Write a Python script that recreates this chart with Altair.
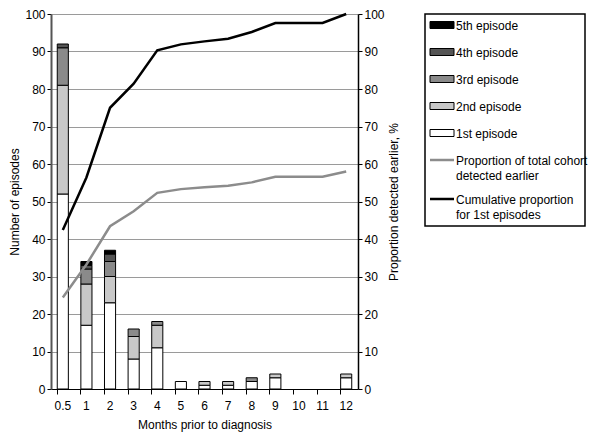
import altair as alt
import pandas as pd

months = ["0.5", "1", "2", "3", "4", "5", "6", "7", "8", "9", "10", "11", "12"]
ep1 = [52, 17, 23, 8, 11, 2, 1, 1, 2, 3, 0, 0, 3]
ep2 = [29, 11, 7, 6, 6, 0, 1, 1, 0, 1, 0, 0, 1]
ep3 = [10, 4, 4, 2, 1, 0, 0, 0, 1, 0, 0, 0, 0]
ep4 = [1, 1, 2, 0, 0, 0, 0, 0, 0, 0, 0, 0, 0]
ep5 = [0, 1, 1, 0, 0, 0, 0, 0, 0, 0, 0, 0, 0]
cum_first = [42.4, 56.4, 75.0, 81.4, 90.3, 91.9, 92.7, 93.4, 95.2, 97.6, 97.6, 97.6, 100.0]
prop_total = [24.4, 33.2, 43.4, 47.4, 52.3, 53.3, 53.8, 54.2, 55.1, 56.6, 56.6, 56.6, 58.0]

episode_names = ["1st episode", "2nd episode", "3rd episode", "4th episode", "5th episode"]
episode_fills = ["#ffffff", "#c8c8c8", "#8a8a8a", "#555555", "#000000"]
line_names = ["Proportion of total cohort\ndetected earlier", "Cumulative proportion\nfor 1st episodes"]
line_colors = ["#8c8c8c", "#000000"]

FONT = "Liberation Sans"

rows = []
for k, series in enumerate([ep1, ep2, ep3, ep4, ep5]):
    for m, v in zip(months, series):
        rows.append({"month": m, "episode": episode_names[k], "rank": k + 1, "count": v})
bars_df = pd.DataFrame(rows)

lrows = []
for name, series in zip(line_names, [prop_total, cum_first]):
    for m, v in zip(months, series):
        lrows.append({"month": m, "series": name, "pct": v})
lines_df = pd.DataFrame(lrows)

xenc = alt.X("month:N", sort=months,
             scale=alt.Scale(domain=months, paddingInner=0.53, paddingOuter=0.265),
             axis=alt.Axis(title="Months prior to diagnosis", labelAngle=0,
                           bandPosition=0, tickSize=5,
                           domainColor="#000", tickColor="#000", labelPadding=6,
                           titlePadding=8))

fill_scale = alt.Scale(domain=episode_names, range=episode_fills)

bars = alt.Chart(bars_df).transform_filter("datum.count > 0").mark_bar(
    stroke="#000", strokeWidth=1).encode(
    x=xenc,
    y=alt.Y("count:Q", stack="zero",
            scale=alt.Scale(domain=[0, 100], nice=False),
            axis=alt.Axis(title="Number of episodes", values=list(range(0, 101, 10)),
                          grid=True, gridColor="#9a9a9a", gridWidth=1,
                          domainColor="#555", domainWidth=2, tickColor="#000",
                          tickSize=4, titlePadding=3)),
    fill=alt.Fill("episode:N", scale=fill_scale, legend=None),
    order=alt.Order("rank:Q", sort="ascending"),
)

lines = alt.Chart(lines_df).mark_line(strokeWidth=2.5).encode(
    x=alt.X("month:N", sort=months),
    y=alt.Y("pct:Q", scale=alt.Scale(domain=[0, 100], nice=False),
            axis=alt.Axis(title="Proportion detected earlier, %", orient="right",
                          values=list(range(0, 101, 10)), grid=False,
                          domainColor="#000", domainWidth=1.5, tickColor="#000",
                          tickSize=4, titlePadding=16, titleAngle=270)),
    stroke=alt.Stroke("series:N", scale=alt.Scale(domain=line_names, range=line_colors),
                      legend=None),
)

main = alt.layer(bars, lines).resolve_scale(y="independent").properties(
    width=307, height=375)

# Legend panel
legend_rows = []
centers = [11, 38, 65, 92, 119, 146, 185]
legend_labels = list(reversed(episode_names)) + line_names
for i, (lab, c) in enumerate(zip(legend_labels, centers)):
    legend_rows.append({"label": lab, "c": c, "top": c - 3.5, "bot": c + 3.5,
                        "txt": c + 4.5, "kind": "bar" if i < 5 else "line"})
leg_df = pd.DataFrame(legend_rows)

ysc = alt.Scale(domain=[0, 212], reverse=True, nice=False, zero=False)

sw = alt.Chart(leg_df).transform_filter("datum.kind == 'bar'").mark_rect(
    stroke="#000", strokeWidth=1).encode(
    x=alt.value(5), x2=alt.value(29),
    y=alt.Y("top:Q", scale=ysc, axis=None), y2="bot:Q",
    fill=alt.Fill("label:N", scale=fill_scale, legend=None),
)
ln = alt.Chart(leg_df).transform_filter("datum.kind == 'line'").mark_rule(strokeWidth=2.5).encode(
    x=alt.value(5), x2=alt.value(29),
    y=alt.Y("c:Q", scale=ysc, axis=None),
    stroke=alt.Stroke("label:N", scale=alt.Scale(domain=line_names, range=line_colors),
                      legend=None),
)
tx = alt.Chart(leg_df).mark_text(align="left", baseline="alphabetic", lineBreak="\n",
                                 lineHeight=15, font=FONT, fontSize=12,
                                 color="#000").encode(
    x=alt.value(31),
    y=alt.Y("txt:Q", scale=ysc, axis=None),
    text="label:N",
)
legend_panel = alt.layer(sw, ln, tx).properties(
    width=160, height=212,
    view=alt.ViewBackground(stroke="#000", strokeWidth=1.5, strokeOpacity=1),
)

chart = alt.hconcat(main, legend_panel, spacing=24).properties(
    padding={"left": 0, "top": 0, "right": 0, "bottom": 4}
).resolve_scale(fill="independent", stroke="independent").configure_view(
    strokeOpacity=0
).configure_axis(
    labelFont=FONT, titleFont=FONT, labelFontSize=12, titleFontSize=12,
    titleFontWeight="normal", labelColor="#000", titleColor="#000"
)

chart.save("out.html", embed_options={"renderer": "svg", "actions": False})
